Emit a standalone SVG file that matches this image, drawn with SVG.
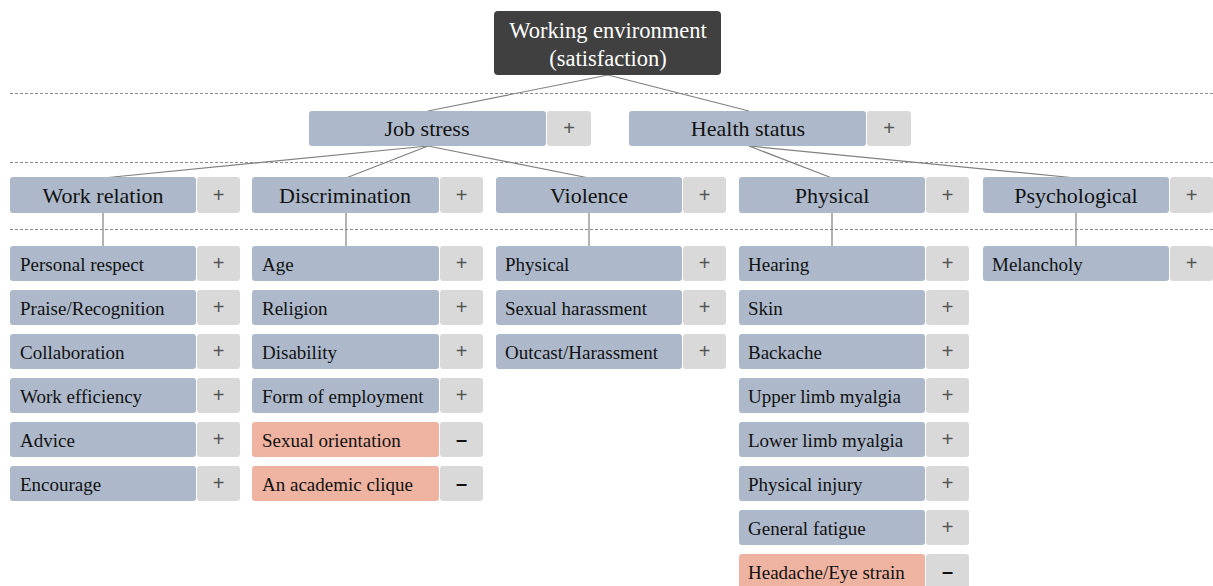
<svg xmlns="http://www.w3.org/2000/svg" width="1213" height="586" viewBox="0 0 1213 586">
<style>
.bg{fill:#ffffff}
.dash{stroke:#8c8c8c;stroke-width:1;stroke-dasharray:3 2;fill:none}
.conn line{stroke:#808080;stroke-width:1.2}
.root{fill:#404040}
.main{fill:#ADB9CA}
.neg{fill:#EFB3A1}
.pm{fill:#D9D9D9}
.t{font-family:"Liberation Serif","Times New Roman",serif;fill:#111}
.rt{font-family:"Liberation Serif","Times New Roman",serif;fill:#ffffff;font-size:22.5px;text-anchor:middle}
.h{font-size:22px;text-anchor:middle}
.l{font-size:19px}
.p{font-family:"Liberation Sans",Arial,sans-serif;font-size:20px;fill:#555;text-anchor:middle}
.m{font-family:"Liberation Sans",Arial,sans-serif;font-size:20px;font-weight:bold;fill:#111;text-anchor:middle}
</style>
<rect class="bg" x="0" y="0" width="1213" height="586"/>
<g id="dividers">
<line class="dash" x1="10" y1="93.5" x2="1213" y2="93.5"/>
<line class="dash" x1="10" y1="162.5" x2="1213" y2="162.5"/>
<line class="dash" x1="10" y1="229.5" x2="1213" y2="229.5"/>
</g>
<g id="connectors" class="conn">
<line x1="608" y1="75" x2="428" y2="111"/>
<line x1="608" y1="75" x2="749" y2="111"/>
<line x1="428" y1="146" x2="103" y2="178"/>
<line x1="428" y1="146" x2="346" y2="178"/>
<line x1="428" y1="146" x2="589" y2="178"/>
<line x1="749" y1="146" x2="832" y2="178"/>
<line x1="749" y1="146" x2="1076" y2="178"/>
<line x1="103" y1="213" x2="103" y2="246"/>
<line x1="346" y1="213" x2="346" y2="246"/>
<line x1="589" y1="213" x2="589" y2="246"/>
<line x1="832" y1="213" x2="832" y2="246"/>
<line x1="1076" y1="213" x2="1076" y2="246"/>
</g>
<g id="root">
<rect class="root" x="494" y="11" width="227" height="64" rx="4"/>
<text class="rt" x="608" y="38">Working environment</text>
<text class="rt" x="608" y="66">(satisfaction)</text>
</g>
<g id="job-stress">
<rect class="main" x="309" y="111" width="237" height="35" rx="3"/>
<rect class="pm" x="547" y="111" width="44" height="35" rx="3"/>
<text class="t h" x="427" y="136">Job stress</text>
<text class="p" x="569" y="135">+</text>
</g>
<g id="health-status">
<rect class="main" x="629" y="111" width="237" height="35" rx="3"/>
<rect class="pm" x="867" y="111" width="44" height="35" rx="3"/>
<text class="t h" x="748" y="136">Health status</text>
<text class="p" x="889" y="135">+</text>
</g>
<g id="work-relation">
<rect class="main" x="10" y="177" width="186" height="36" rx="3"/>
<rect class="pm" x="197" y="177" width="43" height="36" rx="3"/>
<text class="t h" x="103" y="203">Work relation</text>
<text class="p" x="218.5" y="202">+</text>
</g>
<g id="discrimination">
<rect class="main" x="252" y="177" width="187" height="36" rx="3"/>
<rect class="pm" x="440" y="177" width="43" height="36" rx="3"/>
<text class="t h" x="345" y="203">Discrimination</text>
<text class="p" x="461.5" y="202">+</text>
</g>
<g id="violence">
<rect class="main" x="496" y="177" width="186" height="36" rx="3"/>
<rect class="pm" x="683" y="177" width="43" height="36" rx="3"/>
<text class="t h" x="589" y="203">Violence</text>
<text class="p" x="704.5" y="202">+</text>
</g>
<g id="physical">
<rect class="main" x="739" y="177" width="186" height="36" rx="3"/>
<rect class="pm" x="926" y="177" width="43" height="36" rx="3"/>
<text class="t h" x="832" y="203">Physical</text>
<text class="p" x="947.5" y="202">+</text>
</g>
<g id="psychological">
<rect class="main" x="983" y="177" width="186" height="36" rx="3"/>
<rect class="pm" x="1170" y="177" width="43" height="36" rx="3"/>
<text class="t h" x="1076" y="203">Psychological</text>
<text class="p" x="1191.5" y="202">+</text>
</g>
<!-- Work relation leaves -->
<g id="personal-respect"><rect class="main" x="10" y="246" width="186" height="35" rx="3"/><rect class="pm" x="197" y="246" width="43" height="35" rx="3"/><text class="t l" x="20" y="271">Personal respect</text><text class="p" x="218.5" y="270">+</text></g>
<g id="praise-recognition"><rect class="main" x="10" y="290" width="186" height="35" rx="3"/><rect class="pm" x="197" y="290" width="43" height="35" rx="3"/><text class="t l" x="20" y="315">Praise/Recognition</text><text class="p" x="218.5" y="314">+</text></g>
<g id="collaboration"><rect class="main" x="10" y="334" width="186" height="35" rx="3"/><rect class="pm" x="197" y="334" width="43" height="35" rx="3"/><text class="t l" x="20" y="359">Collaboration</text><text class="p" x="218.5" y="358">+</text></g>
<g id="work-efficiency"><rect class="main" x="10" y="378" width="186" height="35" rx="3"/><rect class="pm" x="197" y="378" width="43" height="35" rx="3"/><text class="t l" x="20" y="403">Work efficiency</text><text class="p" x="218.5" y="402">+</text></g>
<g id="advice"><rect class="main" x="10" y="422" width="186" height="35" rx="3"/><rect class="pm" x="197" y="422" width="43" height="35" rx="3"/><text class="t l" x="20" y="447">Advice</text><text class="p" x="218.5" y="446">+</text></g>
<g id="encourage"><rect class="main" x="10" y="466" width="186" height="35" rx="3"/><rect class="pm" x="197" y="466" width="43" height="35" rx="3"/><text class="t l" x="20" y="491">Encourage</text><text class="p" x="218.5" y="490">+</text></g>
<!-- Discrimination leaves -->
<g id="age"><rect class="main" x="252" y="246" width="187" height="35" rx="3"/><rect class="pm" x="440" y="246" width="43" height="35" rx="3"/><text class="t l" x="262" y="271">Age</text><text class="p" x="461.5" y="270">+</text></g>
<g id="religion"><rect class="main" x="252" y="290" width="187" height="35" rx="3"/><rect class="pm" x="440" y="290" width="43" height="35" rx="3"/><text class="t l" x="262" y="315">Religion</text><text class="p" x="461.5" y="314">+</text></g>
<g id="disability"><rect class="main" x="252" y="334" width="187" height="35" rx="3"/><rect class="pm" x="440" y="334" width="43" height="35" rx="3"/><text class="t l" x="262" y="359">Disability</text><text class="p" x="461.5" y="358">+</text></g>
<g id="form-of-employment"><rect class="main" x="252" y="378" width="187" height="35" rx="3"/><rect class="pm" x="440" y="378" width="43" height="35" rx="3"/><text class="t l" x="262" y="403">Form of employment</text><text class="p" x="461.5" y="402">+</text></g>
<g id="sexual-orientation"><rect class="neg" x="252" y="422" width="187" height="35" rx="3"/><rect class="pm" x="440" y="422" width="43" height="35" rx="3"/><text class="t l" x="262" y="447">Sexual orientation</text><text class="m" x="461.5" y="446">–</text></g>
<g id="academic-clique"><rect class="neg" x="252" y="466" width="187" height="35" rx="3"/><rect class="pm" x="440" y="466" width="43" height="35" rx="3"/><text class="t l" x="262" y="491">An academic clique</text><text class="m" x="461.5" y="490">–</text></g>
<!-- Violence leaves -->
<g id="violence-physical"><rect class="main" x="496" y="246" width="186" height="35" rx="3"/><rect class="pm" x="683" y="246" width="43" height="35" rx="3"/><text class="t l" x="505" y="271">Physical</text><text class="p" x="704.5" y="270">+</text></g>
<g id="sexual-harassment"><rect class="main" x="496" y="290" width="186" height="35" rx="3"/><rect class="pm" x="683" y="290" width="43" height="35" rx="3"/><text class="t l" x="505" y="315">Sexual harassment</text><text class="p" x="704.5" y="314">+</text></g>
<g id="outcast-harassment"><rect class="main" x="496" y="334" width="186" height="35" rx="3"/><rect class="pm" x="683" y="334" width="43" height="35" rx="3"/><text class="t l" x="505" y="359">Outcast/Harassment</text><text class="p" x="704.5" y="358">+</text></g>
<!-- Physical leaves -->
<g id="hearing"><rect class="main" x="739" y="246" width="186" height="35" rx="3"/><rect class="pm" x="926" y="246" width="43" height="35" rx="3"/><text class="t l" x="748" y="271">Hearing</text><text class="p" x="947.5" y="270">+</text></g>
<g id="skin"><rect class="main" x="739" y="290" width="186" height="35" rx="3"/><rect class="pm" x="926" y="290" width="43" height="35" rx="3"/><text class="t l" x="748" y="315">Skin</text><text class="p" x="947.5" y="314">+</text></g>
<g id="backache"><rect class="main" x="739" y="334" width="186" height="35" rx="3"/><rect class="pm" x="926" y="334" width="43" height="35" rx="3"/><text class="t l" x="748" y="359">Backache</text><text class="p" x="947.5" y="358">+</text></g>
<g id="upper-limb"><rect class="main" x="739" y="378" width="186" height="35" rx="3"/><rect class="pm" x="926" y="378" width="43" height="35" rx="3"/><text class="t l" x="748" y="403">Upper limb myalgia</text><text class="p" x="947.5" y="402">+</text></g>
<g id="lower-limb"><rect class="main" x="739" y="422" width="186" height="35" rx="3"/><rect class="pm" x="926" y="422" width="43" height="35" rx="3"/><text class="t l" x="748" y="447">Lower limb myalgia</text><text class="p" x="947.5" y="446">+</text></g>
<g id="physical-injury"><rect class="main" x="739" y="466" width="186" height="35" rx="3"/><rect class="pm" x="926" y="466" width="43" height="35" rx="3"/><text class="t l" x="748" y="491">Physical injury</text><text class="p" x="947.5" y="490">+</text></g>
<g id="general-fatigue"><rect class="main" x="739" y="510" width="186" height="35" rx="3"/><rect class="pm" x="926" y="510" width="43" height="35" rx="3"/><text class="t l" x="748" y="535">General fatigue</text><text class="p" x="947.5" y="534">+</text></g>
<g id="headache"><rect class="neg" x="739" y="554" width="186" height="35" rx="3"/><rect class="pm" x="926" y="554" width="43" height="35" rx="3"/><text class="t l" x="748" y="579">Headache/Eye strain</text><text class="m" x="947.5" y="578">–</text></g>
<!-- Psychological leaves -->
<g id="melancholy"><rect class="main" x="983" y="246" width="186" height="35" rx="3"/><rect class="pm" x="1170" y="246" width="43" height="35" rx="3"/><text class="t l" x="992" y="271">Melancholy</text><text class="p" x="1191.5" y="270">+</text></g>
</svg>
